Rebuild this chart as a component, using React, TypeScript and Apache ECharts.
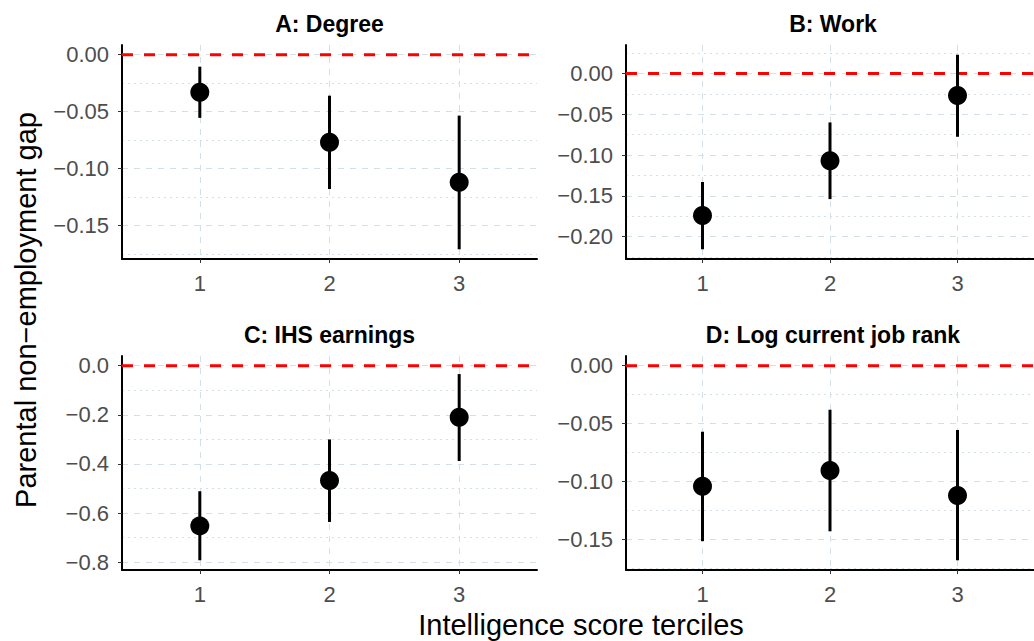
import React, { useEffect, useRef } from 'react';
import * as echarts from 'echarts';

// ---- data ----
const terciles = [1, 2, 3];
const panelTitles = ['A: Degree', 'B: Work', 'C: IHS earnings', 'D: Log current job rank'];

const degreeEst = [-0.033, -0.077, -0.112];
const degreeLo = [-0.0555, -0.118, -0.171];
const degreeHi = [-0.0105, -0.036, -0.0535];

const workEst = [-0.174, -0.107, -0.027];
const workLo = [-0.2155, -0.154, -0.0776];
const workHi = [-0.133, -0.06, 0.023];

const ihsEst = [-0.652, -0.467, -0.21];
const ihsLo = [-0.792, -0.636, -0.388];
const ihsHi = [-0.511, -0.3, -0.034];

const rankEst = [-0.104, -0.0905, -0.112];
const rankLo = [-0.1515, -0.143, -0.168];
const rankHi = [-0.057, -0.038, -0.0555];

const degreeTicks = [0, -0.05, -0.1, -0.15];
const degreeMinor = [-0.025, -0.075, -0.125, -0.175];
const workTicks = [0, -0.05, -0.1, -0.15, -0.2];
const workMinor = [0.025, -0.025, -0.075, -0.125, -0.175, -0.225];
const ihsTicks = [0, -0.2, -0.4, -0.6, -0.8];
const ihsMinor = [-0.1, -0.3, -0.5, -0.7];
const rankTicks = [0, -0.05, -0.1, -0.15];
const rankMinor = [-0.025, -0.075, -0.125, -0.175];
const tickDecimals = [2, 2, 1, 2];

const xLabel = 'Intelligence score terciles';
const yLabel = 'Parental non\u2212employment gap';

const panels = [
  { est: degreeEst, lo: degreeLo, hi: degreeHi, ticks: degreeTicks, minor: degreeMinor },
  { est: workEst, lo: workLo, hi: workHi, ticks: workTicks, minor: workMinor },
  { est: ihsEst, lo: ihsLo, hi: ihsHi, ticks: ihsTicks, minor: ihsMinor },
  { est: rankEst, lo: rankLo, hi: rankHi, ticks: rankTicks, minor: rankMinor },
];

// ---- layout ----
const gridBoxes = [
  { left: 122, top: 45, width: 415, height: 214 },
  { left: 626, top: 45, width: 414, height: 214 },
  { left: 122, top: 356, width: 415, height: 214 },
  { left: 626, top: 356, width: 414, height: 214 },
];
const FONT = '"Liberation Sans", Arial, Helvetica, sans-serif';
const GRID_COLOR = '#d3e0e7';
const X_MIN = 0.4;
const X_MAX = 3.6;

function fmt(v: number, d: number) {
  const s = Math.abs(v).toFixed(d);
  return v < -1e-9 ? '\u2212' + s : s;
}

export default function App() {
  const ref = useRef<HTMLDivElement>(null);
  useEffect(() => {
    if (!ref.current) return;
    const chart = echarts.init(ref.current, undefined, { renderer: 'svg' });
    const grid: any[] = [];
    const xAxis: any[] = [];
    const yAxis: any[] = [];
    const series: any[] = [];
    const graphic: any[] = [];

    panels.forEach((p, i) => {
      const lowAll = Math.min(0, ...p.lo);
      const highAll = Math.max(0, ...p.hi);
      const range = highAll - lowAll;
      const yMin = lowAll - 0.05 * range;
      const yMax = highAll + 0.05 * range;
      const g = gridBoxes[i];
      grid.push({ ...g, containLabel: false });
      xAxis.push({
        type: 'value',
        gridIndex: i,
        min: X_MIN,
        max: X_MAX,
        axisLine: { show: true, onZero: false, lineStyle: { color: '#000', width: 2 } },
        axisTick: { show: true, customValues: terciles, length: 4, lineStyle: { color: '#333', width: 1 } },
        axisLabel: { customValues: terciles, fontSize: 22, color: '#4d4d4d', margin: 13, fontFamily: FONT },
        splitLine: { show: true, lineStyle: { color: GRID_COLOR, width: 1, type: [6, 6] } },
      });
      yAxis.push({
        type: 'value',
        gridIndex: i,
        min: yMin,
        max: yMax,
        position: 'left',
        axisLine: { show: true, onZero: false, lineStyle: { color: '#000', width: 2 } },
        axisTick: { show: true, customValues: p.ticks, length: 4, lineStyle: { color: '#333', width: 1 } },
        axisLabel: {
          customValues: p.ticks,
          fontSize: 22,
          color: '#4d4d4d',
          margin: 13,
          fontFamily: FONT,
          formatter: (v: number) => fmt(v, tickDecimals[i]),
        },
        splitLine: { show: true, lineStyle: { color: GRID_COLOR, width: 1, type: [6, 6] } },
      });
      yAxis.push({
        type: 'value',
        gridIndex: i,
        min: yMin,
        max: yMax,
        position: 'left',
        axisLine: { show: false, onZero: false },
        axisTick: { show: false, customValues: p.minor },
        axisLabel: { show: false, customValues: p.minor },
        splitLine: { show: true, lineStyle: { color: GRID_COLOR, width: 1, type: [2, 4] } },
      });
      series.push({
        type: 'line',
        xAxisIndex: i,
        yAxisIndex: 2 * i,
        data: [
          [X_MIN, 0],
          [X_MAX, 0],
        ],
        symbol: 'none',
        silent: true,
        z: 2,
        lineStyle: { color: '#ff0000', width: 2.8, type: [11, 11], opacity: 1 },
      });
      series.push({
        type: 'custom',
        xAxisIndex: i,
        yAxisIndex: 2 * i,
        z: 3,
        silent: true,
        data: terciles.map((t, k) => [t, p.lo[k], p.hi[k]]),
        encode: { x: 0, y: [1, 2] },
        renderItem: (params: any, api: any) => {
          const x = api.value(0);
          const a = api.coord([x, api.value(1)]);
          const b = api.coord([x, api.value(2)]);
          return {
            type: 'line',
            shape: { x1: a[0], y1: a[1], x2: b[0], y2: b[1] },
            style: { stroke: '#000', lineWidth: 3 },
          };
        },
      });
      series.push({
        type: 'scatter',
        xAxisIndex: i,
        yAxisIndex: 2 * i,
        z: 4,
        symbol: 'circle',
        symbolSize: 19,
        itemStyle: { color: '#000', opacity: 1 },
        data: terciles.map((t, k) => [t, p.est[k]]),
      });
      graphic.push({
        type: 'text',
        x: g.left + g.width / 2,
        y: g.top - 21,
        style: {
          text: panelTitles[i],
          font: 'bold 23px ' + FONT,
          fill: '#000',
          align: 'center',
          verticalAlign: 'middle',
        },
      });
    });

    graphic.push({
      type: 'text',
      x: 581,
      y: 625,
      style: { text: xLabel, font: '29px ' + FONT, fill: '#000', align: 'center', verticalAlign: 'middle' },
    });
    graphic.push({
      type: 'text',
      x: 26,
      y: 310,
      rotation: Math.PI / 2,
      style: { text: yLabel, font: '29px ' + FONT, fill: '#000', align: 'center', verticalAlign: 'middle' },
    });

    chart.setOption({
      animation: false,
      backgroundColor: '#fff',
      grid,
      xAxis,
      yAxis,
      series,
      graphic,
    });
    return () => chart.dispose();
  }, []);
  return (
    <div
      ref={ref}
      style={{ position: 'fixed', left: 0, top: 0, width: 1034, height: 641, background: '#fff' }}
    />
  );
}
